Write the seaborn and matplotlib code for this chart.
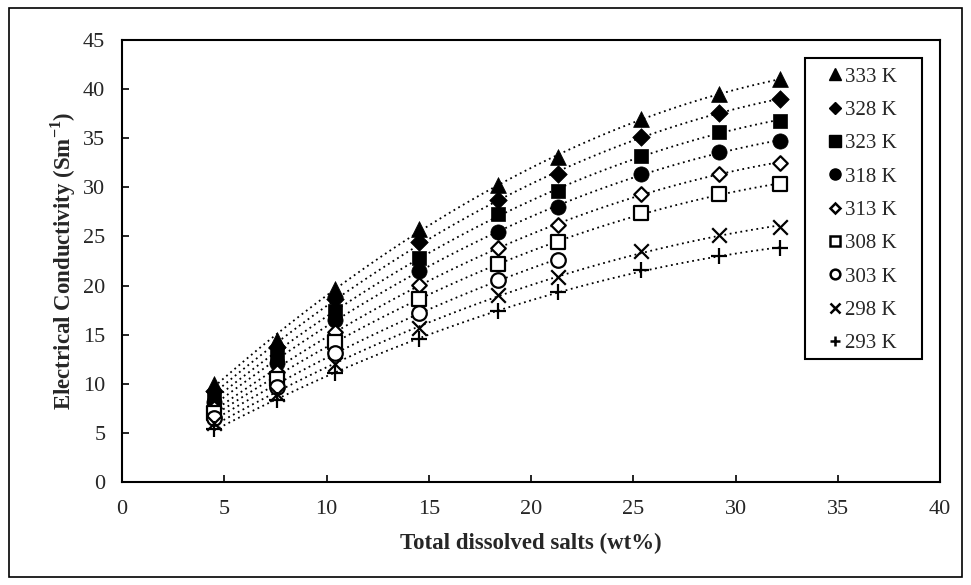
import numpy as np
import pandas as pd
import matplotlib
matplotlib.use("Agg")
import matplotlib.pyplot as plt
from matplotlib.patches import Rectangle
from matplotlib.lines import Line2D
import seaborn as sns

# Total dissolved salts (wt%) at which conductivity was measured
tds = [4.5, 7.6, 10.4, 14.5, 18.4, 21.3, 25.4, 29.2, 32.2]

# Electrical conductivity (S/m) for each temperature
ec_333 = [10.0, 14.5, 19.7, 25.8, 30.2, 33.1, 37.0, 39.5, 41.0]
ec_328 = [9.3, 13.7, 18.6, 24.4, 28.7, 31.4, 35.1, 37.6, 39.0]
ec_323 = [8.7, 12.9, 17.4, 22.8, 27.3, 29.6, 33.2, 35.6, 36.8]
ec_318 = [8.1, 12.1, 16.5, 21.5, 25.5, 28.0, 31.4, 33.6, 34.7]
ec_313 = [7.5, 11.2, 15.3, 20.1, 23.8, 26.2, 29.3, 31.4, 32.5]
ec_308 = [7.0, 10.5, 14.3, 18.6, 22.2, 24.4, 27.4, 29.3, 30.3]
ec_303 = [6.5, 9.7, 13.1, 17.2, 20.6, 22.6]
ec_298 = [6.0, 9.0, 12.0, 15.7, 19.0, 20.9, 23.5, 25.1, 26.0]
ec_293 = [5.4, 8.3, 11.1, 14.6, 17.4, 19.3, 21.6, 23.0, 23.8]

labels = ["333 K", "328 K", "323 K", "318 K", "313 K", "308 K", "303 K", "298 K", "293 K"]
series = [ec_333, ec_328, ec_323, ec_318, ec_313, ec_308, ec_303, ec_298, ec_293]

# marker, filled?, marker size (points^2)
styles = [
    ("^", True, 130),
    ("D", True, 80),
    ("s", True, 110),
    ("o", True, 120),
    ("D", False, 55),
    ("s", False, 95),
    ("o", False, 110),
    ("x", None, 110),
    ("+", None, 120),
]

rows = []
for lab, vals in zip(labels, series):
    for x, y in zip(tds, vals):
        rows.append({"tds": x, "ec": y, "temp": lab})
df = pd.DataFrame(rows)

sns.set_theme(style="white")
plt.rcParams["font.family"] = ["Liberation Serif", "DejaVu Serif"]
plt.rcParams["mathtext.fontset"] = "custom"
plt.rcParams["mathtext.rm"] = "Liberation Serif"
plt.rcParams["mathtext.bf"] = "Liberation Serif:bold"

W, H = 971, 585
fig = plt.figure(figsize=(W / 100, H / 100), dpi=100)
ax = fig.add_axes([122 / W, 1 - 482 / H, (940 - 122) / W, (482 - 40) / H])

handles = []
for lab, (mk, filled, size) in zip(labels, styles):
    sub = df[df["temp"] == lab]
    sns.regplot(data=sub, x="tds", y="ec", order=2, ci=None, scatter=False, ax=ax,
                line_kws=dict(color="black", linestyle=(0, (1, 2)), linewidth=1.3))
    if filled is None:
        kw = dict(color="black", linewidth=1.6)
    elif filled:
        kw = dict(color="black", edgecolor="black", linewidth=0.5)
    else:
        kw = dict(facecolor="white", edgecolor="black", linewidth=1.6)
    sns.scatterplot(data=sub, x="tds", y="ec", marker=mk, s=size, ax=ax, zorder=3, **kw)
    if filled is None:
        h = Line2D([], [], linestyle="none", marker=mk, markersize=7, color="black",
                   markeredgewidth=1.8)
    elif filled:
        h = Line2D([], [], linestyle="none", marker=mk, markersize=8 if mk != "D" else 6,
                   color="black")
    else:
        h = Line2D([], [], linestyle="none", marker=mk, markersize=7 if mk != "D" else 5.5,
                   markerfacecolor="white", markeredgecolor="black", markeredgewidth=1.8)
    handles.append(h)

ax.set_xlim(0, 40)
ax.set_ylim(0, 45)
ax.set_xticks(np.arange(0, 41, 5))
ax.set_yticks(np.arange(0, 46, 5))
ax.tick_params(axis="both", which="both", labelsize=16, direction="in", length=5,
               width=1.2, color="black", bottom=True, left=True)
ax.tick_params(axis="y", pad=12)
ax.tick_params(axis="x", pad=13)
for sp in ax.spines.values():
    sp.set_color("black")
    sp.set_linewidth(1.5)

ax.set_xlabel("Total dissolved salts (wt%)", fontsize=16.5, fontweight="bold", labelpad=10)
ax.set_ylabel(r"Electrical Conductivity (Sm$^{\mathbf{-1}}$)", fontsize=16.5,
              fontweight="bold", labelpad=4)

# legend entries without their own frame; the box is drawn separately
leg = ax.legend(handles, labels, loc="upper left",
                bbox_to_anchor=(827 / W, 1 - 67 / H), bbox_transform=fig.transFigure,
                frameon=False, fontsize=15, handlelength=0.8, handletextpad=0.05,
                labelspacing=0.66, borderpad=0, borderaxespad=0)
fig.patches.append(Rectangle((805 / W, 1 - 359 / H), (922 - 805) / W, (359 - 58) / H,
                             transform=fig.transFigure, fill=False, edgecolor="black",
                             linewidth=1.5, zorder=5))

# outer frame around the whole chart
fig.patches.append(Rectangle((9 / W, 8 / H), (962 - 9) / W, (577 - 8) / H,
                             transform=fig.transFigure, fill=False, edgecolor="black",
                             linewidth=1.2))

fig.savefig("out.png", dpi=100)
